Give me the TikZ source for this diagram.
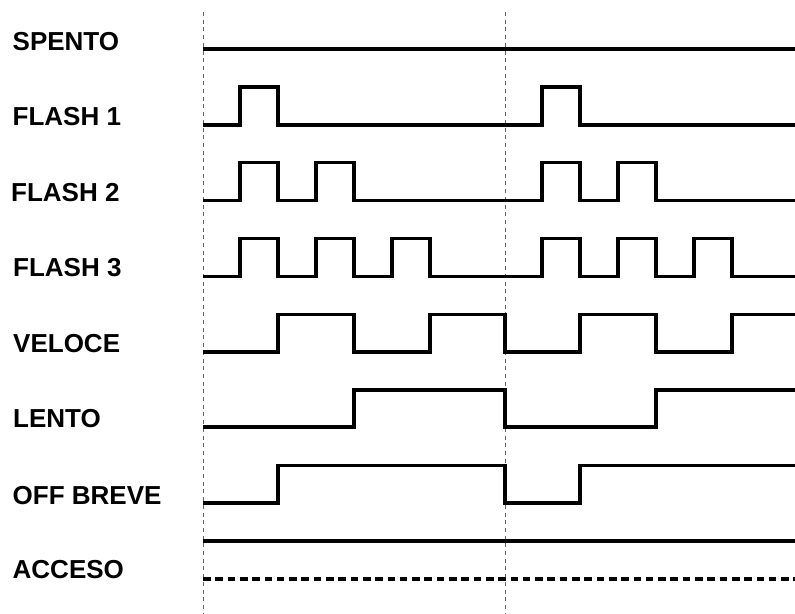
\documentclass[tikz,border=0pt]{standalone}
\usepackage{fontspec}
\setmainfont{Liberation Sans}
\begin{document}
\begin{tikzpicture}[x=1pt,y=-1pt,
  lbl/.style={anchor=west,inner sep=0pt,font=\fontsize{26}{26}\selectfont\bfseries},
  sig/.style={line width=3.4pt,line join=miter,line cap=butt},
  guide/.style={line width=1pt,gray!80!black,dash pattern=on 4pt off 3.7pt},
  dsig/.style={line width=3.4pt,dash pattern=on 7.6pt off 4.7pt}]
\useasboundingbox (0,0) rectangle (795,613);
% guides
\coordinate (g1t) at (203,12); \coordinate (g1b) at (203,613);
\coordinate (g2t) at (505,12); \coordinate (g2b) at (505,613);
\draw[guide] (g1t) -- (g1b);
\draw[guide] (g2t) -- (g2b);
% labels
\node[lbl] (spento) at (12.5,42) {SPENTO};
\node[lbl] (f1) at (12.5,116.5) {FLASH 1};
\node[lbl] (f2) at (11,192.5) {FLASH 2};
\node[lbl] (f3) at (13,268) {FLASH 3};
\node[lbl] (veloce) at (13,344) {VELOCE};
\node[lbl] (lento) at (13,418.5) {LENTO};
\node[lbl] (off) at (12.5,495.5) {OFF BREVE};
\node[lbl] (acceso) at (12.5,569.5) {ACCESO};
% SPENTO
\draw[sig] (203,49) -- (795,49);
% FLASH 1
\draw[sig] (203,125) -| (240,87) -| (278,125) -| (542,87) -| (580,125) -- (795,125);
% FLASH 2
\draw[sig] (203,200.5) -| (240,162.5) -| (278,200.5) -| (316,162.5) -| (354,200.5)
  -| (542,162.5) -| (580,200.5) -| (618,162.5) -| (656,200.5) -- (795,200.5);
% FLASH 3
\draw[sig] (203,276.5) -| (240,238.5) -| (278,276.5) -| (316,238.5) -| (354,276.5)
  -| (392,238.5) -| (430,276.5)
  -| (542,238.5) -| (580,276.5) -| (618,238.5) -| (656,276.5)
  -| (694,238.5) -| (732,276.5) -- (795,276.5);
% VELOCE
\draw[sig] (203,352) -| (278,314.5) -| (354,352) -| (430,314.5) -| (505,352)
  -| (580,314.5) -| (656,352) -| (732,314.5) -- (795,314.5);
% LENTO
\draw[sig] (203,427) -| (354,390) -| (505,427) -| (656,390) -- (795,390);
% OFF BREVE
\draw[sig] (203,503) -| (278,465.5) -| (505,503) -| (580,465.5) -- (795,465.5);
% ACCESO
\draw[sig] (203,541) -- (795,541);
\draw[dsig] (203,579) -- (795,579);
\end{tikzpicture}
\end{document}
